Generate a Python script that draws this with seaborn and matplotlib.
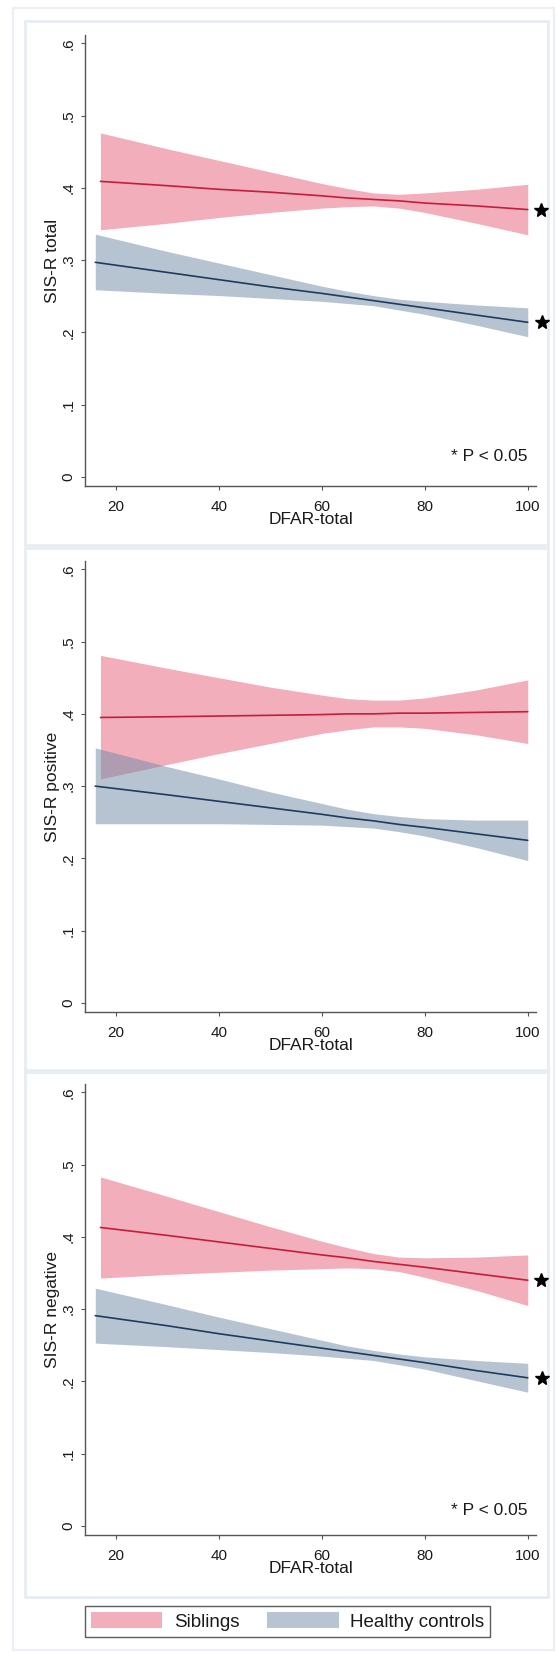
import pandas as pd
import matplotlib.pyplot as plt
import seaborn as sns
from matplotlib.patches import Rectangle, Patch

# values: fitted line + 95% CI band, per group
sib_x = [17, 30, 40, 50, 60, 65, 70, 75, 80, 90, 100]
hc_x = [16, 30, 40, 50, 60, 65, 70, 75, 80, 90, 100]

# SIS-R total
tot_sib_fit = [0.409, 0.403, 0.398, 0.394, 0.389, 0.386, 0.384, 0.382, 0.379, 0.375, 0.370]
tot_sib_lo = [0.342, 0.351, 0.359, 0.366, 0.372, 0.374, 0.375, 0.372, 0.366, 0.351, 0.335]
tot_sib_hi = [0.476, 0.454, 0.438, 0.422, 0.406, 0.399, 0.393, 0.391, 0.393, 0.398, 0.405]
tot_hc_fit = [0.297, 0.283, 0.273, 0.263, 0.254, 0.249, 0.244, 0.239, 0.234, 0.224, 0.214]
tot_hc_lo = [0.259, 0.254, 0.251, 0.247, 0.243, 0.240, 0.237, 0.231, 0.225, 0.210, 0.194]
tot_hc_hi = [0.336, 0.312, 0.296, 0.280, 0.264, 0.257, 0.251, 0.246, 0.243, 0.238, 0.234]

# SIS-R positive
pos_sib_fit = [0.395, 0.396, 0.397, 0.398, 0.399, 0.400, 0.400, 0.401, 0.401, 0.402, 0.403]
pos_sib_lo = [0.310, 0.330, 0.345, 0.359, 0.373, 0.378, 0.382, 0.382, 0.380, 0.371, 0.359]
pos_sib_hi = [0.481, 0.463, 0.450, 0.437, 0.426, 0.421, 0.419, 0.419, 0.422, 0.433, 0.447]
pos_hc_fit = [0.300, 0.288, 0.279, 0.270, 0.261, 0.256, 0.252, 0.247, 0.243, 0.234, 0.225]
pos_hc_lo = [0.248, 0.248, 0.248, 0.247, 0.246, 0.244, 0.242, 0.237, 0.231, 0.215, 0.197]
pos_hc_hi = [0.353, 0.327, 0.310, 0.292, 0.276, 0.268, 0.262, 0.258, 0.255, 0.253, 0.253]

# SIS-R negative
neg_sib_fit = [0.413, 0.402, 0.393, 0.384, 0.375, 0.371, 0.366, 0.362, 0.358, 0.349, 0.340]
neg_sib_lo = [0.343, 0.348, 0.351, 0.354, 0.356, 0.357, 0.356, 0.352, 0.344, 0.326, 0.305]
neg_sib_hi = [0.483, 0.456, 0.435, 0.414, 0.394, 0.385, 0.377, 0.372, 0.371, 0.372, 0.375]
neg_hc_fit = [0.291, 0.277, 0.266, 0.256, 0.246, 0.241, 0.236, 0.231, 0.226, 0.215, 0.205]
neg_hc_lo = [0.253, 0.248, 0.244, 0.240, 0.235, 0.232, 0.229, 0.223, 0.217, 0.201, 0.185]
neg_hc_hi = [0.329, 0.306, 0.289, 0.273, 0.257, 0.249, 0.243, 0.238, 0.234, 0.229, 0.225]

y_labels = ["SIS-R total", "SIS-R positive", "SIS-R negative"]
sig_stars = [True, False, True]
groups = ["Siblings", "Healthy controls"]
y_ticks = [0, 0.1, 0.2, 0.3, 0.4, 0.5, 0.6]
y_tick_labels = ["0", ".1", ".2", ".3", ".4", ".5", ".6"]
x_ticks = [20, 40, 60, 80, 100]

panels = [
    (tot_sib_fit, tot_sib_lo, tot_sib_hi, tot_hc_fit, tot_hc_lo, tot_hc_hi),
    (pos_sib_fit, pos_sib_lo, pos_sib_hi, pos_hc_fit, pos_hc_lo, pos_hc_hi),
    (neg_sib_fit, neg_sib_lo, neg_sib_hi, neg_hc_fit, neg_hc_lo, neg_hc_hi),
]

sns.set_style("white")
plt.rcParams['font.family'] = ['Liberation Sans', 'DejaVu Sans']

sib_line = '#C41E3A'
hc_line = '#1F3A5F'
sib_fill = '#F2AEBA'
hc_fill = '#6F8BA7'  # drawn with alpha 0.5 -> light slate
txt = '#1a1a1a'
spine_col = '#555555'

W, H = 557, 1654
fig = plt.figure(figsize=(W / 100, H / 100), dpi=100)
fig.patch.set_facecolor('white')

# light frames like the Stata graph regions (kept behind the axes)
fig.patches.append(Rectangle((13 / W, 1 - 1650 / H), 541 / W, 1642 / H, transform=fig.transFigure,
                             fill=False, edgecolor='#E9EFF4', lw=1.5, zorder=-2))
for top, bot in [(21, 545), (548, 1070), (1072, 1597)]:
    fig.patches.append(Rectangle((25 / W, 1 - bot / H), 523 / W, (bot - top) / H, transform=fig.transFigure,
                                 facecolor='white', edgecolor='#E6EDF3', lw=2, zorder=-1))

ax_tops = [35, 561, 1084]
ax_h = 451
for i, (sf, slo, shi, hf, hlo, hhi) in enumerate(panels):
    top = ax_tops[i]
    ax = fig.add_axes([85 / W, 1 - (top + ax_h) / H, 451 / W, ax_h / H])
    ax.set_facecolor('none')

    df = pd.concat([
        pd.DataFrame({'x': sib_x, 'fit': sf, 'lo': slo, 'hi': shi, 'group': groups[0]}),
        pd.DataFrame({'x': hc_x, 'fit': hf, 'lo': hlo, 'hi': hhi, 'group': groups[1]}),
    ], ignore_index=True)

    s = df[df['group'] == groups[0]]
    h = df[df['group'] == groups[1]]
    ax.fill_between(s['x'], s['lo'], s['hi'], color=sib_fill, lw=0, zorder=1)
    ax.fill_between(h['x'], h['lo'], h['hi'], color=hc_fill, alpha=0.5, lw=0, zorder=2)
    sns.lineplot(data=df, x='x', y='fit', hue='group', palette=[sib_line, hc_line],
                 legend=False, ax=ax, lw=1.2, zorder=3)

    if sig_stars[i]:
        ax.plot(102.5, sf[-1], marker='*', ms=10, color='black', clip_on=False, zorder=4)
        ax.plot(102.8, hf[-1], marker='*', ms=10, color='black', clip_on=False, zorder=4)
        ax.text(100, 0.028 if i == 0 else 0.022, "* P < 0.05", ha='right', va='center',
                fontsize=12.5, color=txt)

    ax.set_xlim(14.0, 101.6)
    ax.set_ylim(-0.0125, 0.6115)
    ax.set_xticks(x_ticks)
    ax.set_yticks(y_ticks)
    ax.set_yticklabels(y_tick_labels)
    for lab in ax.get_yticklabels():
        lab.set_rotation(90)
        lab.set_va('center')
        lab.set_ha('right')

    for side in ['top', 'right']:
        ax.spines[side].set_visible(False)
    for side in ['left', 'bottom']:
        ax.spines[side].set_color(spine_col)
        ax.spines[side].set_linewidth(1.0)
    ax.tick_params(axis='both', direction='out', length=3, width=0.8, color=spine_col,
                   labelsize=11, labelcolor=txt, left=True, bottom=True)
    ax.tick_params(axis='y', pad=4)
    ax.tick_params(axis='x', pad=7)

    ax.set_xlabel("DFAR-total", fontsize=12.5, color=txt)
    ax.set_ylabel(y_labels[i], fontsize=12.5, color=txt)
    ax.xaxis.set_label_coords(0.5, -0.058)
    ax.yaxis.set_label_coords(-0.073, 0.5)
    ax.yaxis.label.set_va('center')

handles = [Patch(facecolor=sib_fill, edgecolor='none', label=groups[0]),
           Patch(facecolor='#B7C5D3', edgecolor='none', label=groups[1])]
leg = fig.legend(handles=handles, loc='center', bbox_to_anchor=(287.5 / W, 1 - 1621.5 / H),
                 ncol=2, fontsize=13.5, frameon=True, fancybox=False,
                 handlelength=3.8, handleheight=0.95, handletextpad=0.6, columnspacing=1.5,
                 borderpad=0.35)
leg.get_frame().set_edgecolor('#333333')
leg.get_frame().set_linewidth(1.0)
for t in leg.get_texts():
    t.set_color(txt)

fig.savefig("out.png", dpi=100)
